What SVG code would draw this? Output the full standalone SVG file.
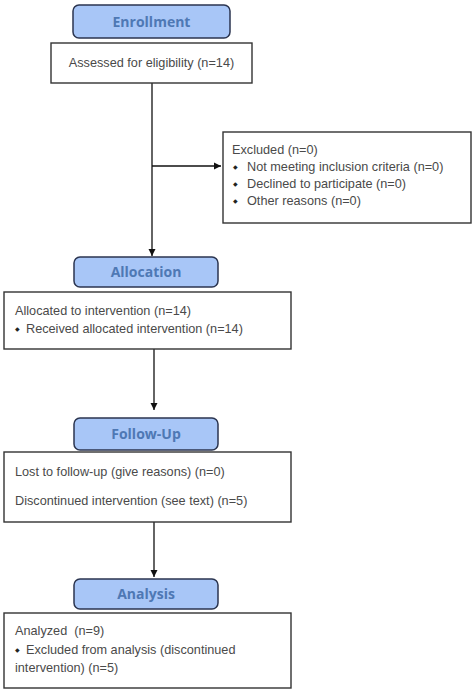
<svg xmlns="http://www.w3.org/2000/svg" width="474" height="692" viewBox="0 0 474 692">
<style>
.hdr{fill:#a8c6f7;stroke:#2b3550;stroke-width:1.5}
.hdrt{font-family:"Open Sans","Liberation Sans",sans-serif;font-weight:bold;font-size:14px;fill:#4e78b4;text-anchor:middle}
.box{fill:#fff;stroke:#333;stroke-width:1.4}
.t{font-family:"Liberation Sans",Arial,sans-serif;font-size:12.7px;fill:#4a4a4a}
.b{font-family:"DejaVu Sans",sans-serif;font-size:6px;fill:#222}
.ln{stroke:#111;stroke-width:1.3;fill:none}
</style>
<defs>
<marker id="ah" markerWidth="8" markerHeight="8" refX="7" refY="4" orient="auto" markerUnits="userSpaceOnUse">
<path d="M0,0.5 L7,4 L0,7.5 Z" fill="#111"/>
</marker>
</defs>
<rect width="474" height="692" fill="#fff"/>
<g id="connectors">
<line class="ln" x1="152" y1="83" x2="152" y2="256" marker-end="url(#ah)"/>
<line class="ln" x1="152" y1="166" x2="221" y2="166" marker-end="url(#ah)"/>
<line class="ln" x1="154" y1="349" x2="154" y2="410" marker-end="url(#ah)"/>
<line class="ln" x1="154" y1="522" x2="154" y2="577" marker-end="url(#ah)"/>
</g>
<g id="enrollment">
<rect class="hdr" x="73" y="5" width="157" height="33" rx="6"/>
<text class="hdrt" x="151.5" y="26.5">Enrollment</text>
</g>
<g id="assessed">
<rect class="box" x="51" y="43" width="201" height="40"/>
<text class="t" x="151.5" y="66.5" text-anchor="middle">Assessed for eligibility (n=14)</text>
</g>
<g id="excluded">
<rect class="box" x="223" y="132" width="248" height="91"/>
<text class="t" x="232" y="154">Excluded (n=0)</text>
<text class="b" x="233" y="169">◆</text><text class="t" x="247" y="171">Not meeting inclusion criteria (n=0)</text>
<text class="b" x="233" y="186">◆</text><text class="t" x="247" y="188">Declined to participate (n=0)</text>
<text class="b" x="233" y="203">◆</text><text class="t" x="247" y="205">Other reasons (n=0)</text>
</g>
<g id="allocation">
<rect class="hdr" x="74" y="257" width="144" height="30" rx="6"/>
<text class="hdrt" x="146" y="277">Allocation</text>
</g>
<g id="allocated">
<rect class="box" x="4" y="292" width="287" height="57"/>
<text class="t" x="15" y="315">Allocated to intervention (n=14)</text>
<text class="b" x="15" y="331">◆</text><text class="t" x="26" y="333">Received allocated intervention (n=14)</text>
</g>
<g id="followup">
<rect class="hdr" x="74" y="418" width="144" height="32" rx="6"/>
<text class="hdrt" x="146" y="439">Follow-Up</text>
</g>
<g id="lost">
<rect class="box" x="4" y="452" width="287" height="70"/>
<text class="t" x="15" y="476">Lost to follow-up (give reasons) (n=0)</text>
<text class="t" x="15" y="505">Discontinued intervention (see text) (n=5)</text>
</g>
<g id="analysis">
<rect class="hdr" x="74" y="579" width="144" height="30" rx="6"/>
<text class="hdrt" x="146" y="599">Analysis</text>
</g>
<g id="analyzed">
<rect class="box" x="4" y="613" width="287" height="75"/>
<text class="t" x="15" y="635" xml:space="preserve">Analyzed  (n=9)</text>
<text class="b" x="15" y="652">◆</text><text class="t" x="26" y="654">Excluded from analysis (discontinued</text>
<text class="t" x="15" y="672">intervention) (n=5)</text>
</g>
</svg>
